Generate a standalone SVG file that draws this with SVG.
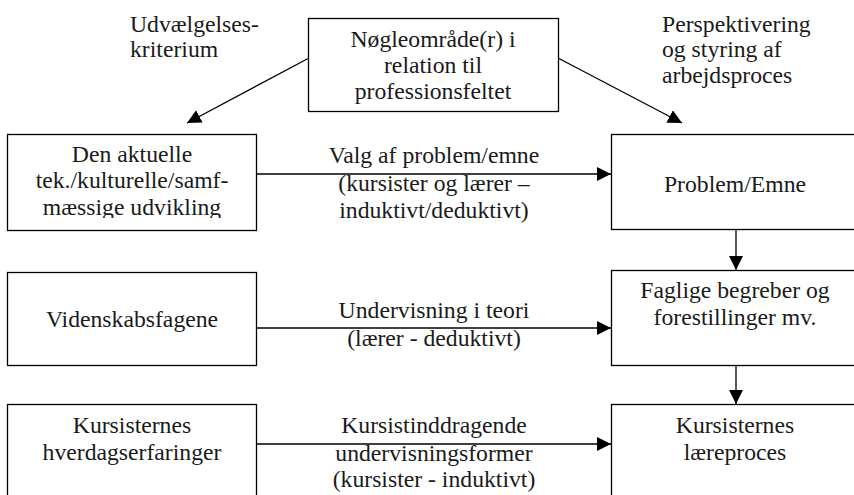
<svg xmlns="http://www.w3.org/2000/svg" width="854" height="495" viewBox="0 0 854 495">
  <style>
    .box { fill: #ffffff; stroke: #000000; stroke-width: 1.3; }
    .lbl { font-size: 23.7px; fill: #1a1a1a; }
    .c { text-anchor: middle; }
    .edge { stroke: #000000; stroke-width: 1.3; fill: none; marker-end: url(#head); }
  </style>
  <defs>
    <marker id="head" markerUnits="userSpaceOnUse" markerWidth="15" markerHeight="15" refX="14" refY="7" orient="auto">
      <path d="M0,0 L14,7 L0,14 Z" fill="#000000"/>
    </marker>
    <clipPath id="clipDen">
      <rect x="7" y="134" width="249" height="84"/>
    </clipPath>
  </defs>

  <rect width="854" height="495" fill="#ffffff"/>

  <!-- free captions -->
  <g id="caption-left" font-family="Liberation Serif">
    <text class="lbl" font-family="Liberation Serif" x="130" y="32">Udvælgelses-</text>
    <text class="lbl" font-family="Liberation Serif" x="130" y="57">kriterium</text>
  </g>
  <g id="caption-right" font-family="Liberation Serif">
    <text class="lbl" font-family="Liberation Serif" x="662" y="32">Perspektivering</text>
    <text class="lbl" font-family="Liberation Serif" x="662" y="57">og styring af</text>
    <text class="lbl" font-family="Liberation Serif" x="662" y="83">arbejdsproces</text>
  </g>

  <!-- connectors -->
  <g id="connectors">
    <line class="edge" x1="309" y1="58" x2="187" y2="123"/>
    <line class="edge" x1="558" y1="58" x2="682" y2="123"/>
    <line class="edge" x1="256" y1="174" x2="611" y2="174"/>
    <line class="edge" x1="256" y1="328" x2="611" y2="328"/>
    <line class="edge" x1="256" y1="444" x2="611" y2="444"/>
    <line class="edge" x1="736" y1="229" x2="736" y2="270"/>
    <line class="edge" x1="736" y1="365" x2="736" y2="404"/>
  </g>

  <!-- connector labels -->
  <g id="edge-labels" font-family="Liberation Serif">
    <text class="lbl c" font-family="Liberation Serif" x="434" y="163">Valg af problem/emne</text>
    <text class="lbl c" font-family="Liberation Serif" x="434" y="191">(kursister og lærer –</text>
    <text class="lbl c" font-family="Liberation Serif" x="434" y="218">induktivt/deduktivt)</text>
    <text class="lbl c" font-family="Liberation Serif" x="434" y="318">Undervisning i teori</text>
    <text class="lbl c" font-family="Liberation Serif" x="434" y="346">(lærer - deduktivt)</text>
    <text class="lbl c" font-family="Liberation Serif" x="434" y="433">Kursistinddragende</text>
    <text class="lbl c" font-family="Liberation Serif" x="434" y="461">undervisningsformer</text>
    <text class="lbl c" font-family="Liberation Serif" x="434" y="487">(kursister - induktivt)</text>
  </g>

  <!-- nodes -->
  <g id="node-noegleomraade" font-family="Liberation Serif">
    <rect class="box" x="308.5" y="18.5" width="250" height="93"/>
    <text class="lbl c" font-family="Liberation Serif" x="433" y="47">Nøgleområde(r) i</text>
    <text class="lbl c" font-family="Liberation Serif" x="433" y="73">relation til</text>
    <text class="lbl c" font-family="Liberation Serif" x="433" y="99">professionsfeltet</text>
  </g>

  <g id="node-aktuelle" font-family="Liberation Serif">
    <rect class="box" x="7.5" y="134.5" width="249" height="96"/>
    <g clip-path="url(#clipDen)">
      <text class="lbl c" font-family="Liberation Serif" x="132" y="162">Den aktuelle</text>
      <text class="lbl c" font-family="Liberation Serif" x="132" y="188">tek./kulturelle/samf-</text>
      <text class="lbl c" font-family="Liberation Serif" x="132" y="215">mæssige udvikling</text>
    </g>
  </g>

  <g id="node-problem" font-family="Liberation Serif">
    <rect class="box" x="611.5" y="134.5" width="249" height="95"/>
    <text class="lbl c" font-family="Liberation Serif" x="735" y="192">Problem/Emne</text>
  </g>

  <g id="node-videnskab" font-family="Liberation Serif">
    <rect class="box" x="7.5" y="272.5" width="249" height="93"/>
    <text class="lbl c" font-family="Liberation Serif" x="132" y="327">Videnskabsfagene</text>
  </g>

  <g id="node-faglige" font-family="Liberation Serif">
    <rect class="box" x="611.5" y="270.5" width="249" height="95"/>
    <text class="lbl c" font-family="Liberation Serif" x="735" y="298">Faglige begreber og</text>
    <text class="lbl c" font-family="Liberation Serif" x="735" y="325">forestillinger mv.</text>
  </g>

  <g id="node-hverdag" font-family="Liberation Serif">
    <rect class="box" x="7.5" y="404.5" width="249" height="100"/>
    <text class="lbl c" font-family="Liberation Serif" x="132" y="433">Kursisternes</text>
    <text class="lbl c" font-family="Liberation Serif" x="132" y="460">hverdagserfaringer</text>
  </g>

  <g id="node-laereproces" font-family="Liberation Serif">
    <rect class="box" x="611.5" y="404.5" width="249" height="100"/>
    <text class="lbl c" font-family="Liberation Serif" x="735" y="433">Kursisternes</text>
    <text class="lbl c" font-family="Liberation Serif" x="735" y="460">læreproces</text>
  </g>
</svg>
